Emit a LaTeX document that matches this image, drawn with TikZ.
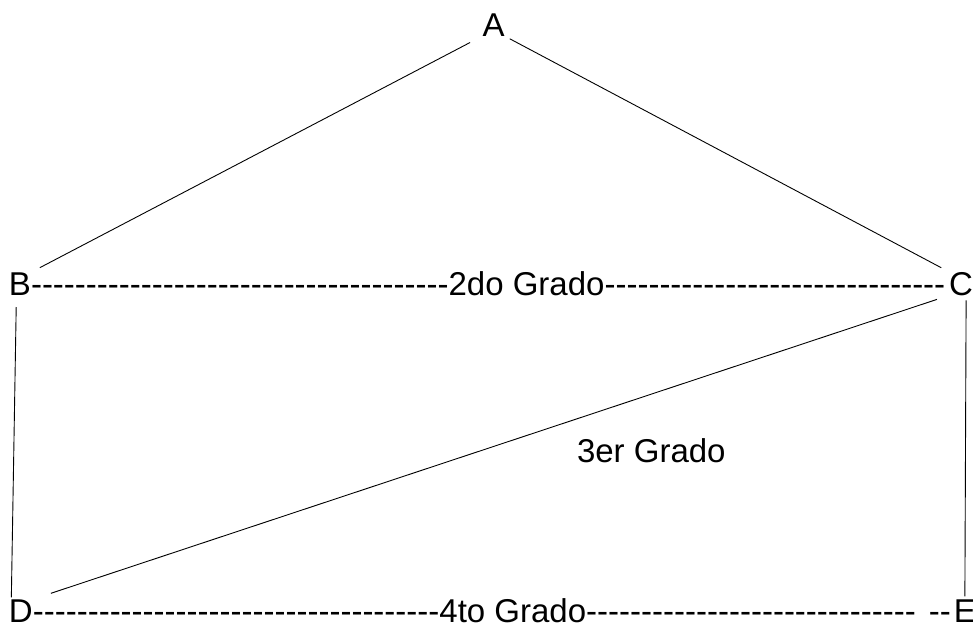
\documentclass[tikz,border=0pt]{standalone}
\usepackage{fontspec}
\setmainfont{Liberation Sans}
\newcount\hyc
\newcommand\hyphs[1]{\hyc=#1\relax\loop\ifnum\hyc>0 -{}\advance\hyc by -1\relax\repeat}
\begin{document}
\begin{tikzpicture}[x=1pt,y=-1pt,
  txt/.style={inner sep=0pt, outer sep=0pt, font=\fontsize{33}{39}\selectfont, anchor=base west},
  conn/.style={line width=0.9pt, black}]
\useasboundingbox (0,0) rectangle (973,629);
\clip (0,0) rectangle (973,629);
% top
\node[txt, anchor=base] (A) at (493.5,36) {A};
% row B -- C
\node[txt] (B) at (9,295) {B};
\node[txt] (bc1) at (B.base east) {\hyphs{38}};
\node[txt] (g2) at (bc1.base east) {2do Grado};
\node[txt] (bc2) at (g2.base east) {\hyphs{31}};
\node[txt] (C) at ([xshift=4pt]bc2.base east) {C};
% middle label
\node[txt] (g3) at (577,462) {3er Grado};
% row D -- E
\node[txt] (D) at (9,622) {D};
\node[txt] (de1) at (D.base east) {\hyphs{37}};
\node[txt] (g4) at (de1.base east) {4to Grado};
\node[txt] (de2) at (g4.base east) {\hyphs{30}\hspace{13pt}\hyphs{2}};
\node[txt] (E) at ([xshift=3pt]de2.base east) {E};
% connectors
\draw[conn, shorten <=14pt, shorten >=10pt] (A.south west) -- (B.north east);
\draw[conn, shorten <=6pt, shorten >=9pt] (A.south east) -- (C.north west);
\draw[conn, shorten <=12pt, shorten >=2pt] ([xshift=-3.6pt]B.south) -- ([xshift=-9.6pt]D.north);
\draw[conn, shorten <=5pt, shorten >=3pt] ([xshift=5pt]C.south) -- ([xshift=0pt]E.north);
\draw[conn, shorten <=13pt, shorten >=19pt] (C.south west) -- (D.north east);
\end{tikzpicture}
\end{document}
